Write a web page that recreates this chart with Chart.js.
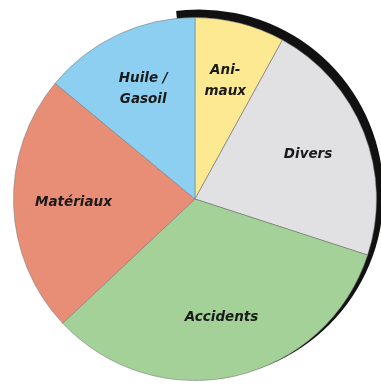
<!DOCTYPE html>
<html>
<head>
<meta charset="utf-8">
<script src="https://cdn.jsdelivr.net/npm/chart.js@4"></script>
<style>
  html, body { margin: 0; padding: 0; background: #fff; }
  #wrap { width: 381px; height: 385px; position: relative; }
</style>
</head>
<body>
<div id="wrap"><canvas id="chart-pie"></canvas></div>
<script>
// ── Données (en %)
const labels = [["Ani-", "maux"], "Divers", "Accidents", "Matériaux", ["Huile /", "Gasoil"]];
const values = [8, 22, 33, 23, 14];
const colors = ["#fce992", "#e1e1e3", "#a4d197", "#e98e76", "#8dcff1"];

// ombre noire en haut à droite
const shadowPlugin = {
  id: "shadow",
  beforeDatasetsDraw(chart) {
    const arc = chart.getDatasetMeta(0).data[0];
    if (!arc) return;
    const { x, y, outerRadius } = arc.getProps(["x", "y", "outerRadius"], true);
    const ctx = chart.ctx;
    ctx.save();
    ctx.beginPath();
    ctx.moveTo(x, y);
    ctx.arc(x, y, outerRadius + 30, -Math.PI / 2 - 0.1, Math.PI * 0.45);
    ctx.closePath();
    ctx.clip();
    ctx.beginPath();
    ctx.arc(x + 4, y - 5, outerRadius + 3, 0, Math.PI * 2);
    ctx.fillStyle = "#111";
    ctx.filter = "blur(0.6px)";
    ctx.fill();
    ctx.restore();
  },
};

// étiquettes dans les parts
const labelPlugin = {
  id: "sliceLabels",
  afterDatasetsDraw(chart) {
    const ctx = chart.ctx;
    ctx.save();
    ctx.font = "italic bold 13.5px 'DejaVu Sans', sans-serif";
    ctx.fillStyle = "#1a1a1a";
    ctx.textAlign = "center";
    ctx.textBaseline = "middle";
    chart.getDatasetMeta(0).data.forEach((arc, i) => {
      const p = arc.getProps(["x", "y", "startAngle", "endAngle", "outerRadius"], true);
      const mid = (p.startAngle + p.endAngle) / 2;
      const d = p.outerRadius * 0.67;
      const cx = p.x + Math.cos(mid) * d;
      const cy = p.y + Math.sin(mid) * d;
      const lines = Array.isArray(labels[i]) ? labels[i] : [labels[i]];
      const lh = 21;
      lines.forEach((t, k) => {
        ctx.fillText(t, cx, cy + (k - (lines.length - 1) / 2) * lh);
      });
    });
    ctx.restore();
  },
};

new Chart(document.getElementById("chart-pie"), {
  type: "pie",
  data: {
    labels: labels,
    datasets: [{
      data: values,
      backgroundColor: colors,
      borderColor: "rgba(120,120,120,0.55)",
      borderWidth: 1,
    }],
  },
  options: {
    responsive: true,
    maintainAspectRatio: false,
    animation: false,
    layout: { padding: { left: 13, right: 4, top: 17, bottom: 4 } },
    plugins: {
      legend: { display: false },
      tooltip: { enabled: false },
    },
  },
  plugins: [shadowPlugin, labelPlugin],
});
</script>
</body>
</html>
